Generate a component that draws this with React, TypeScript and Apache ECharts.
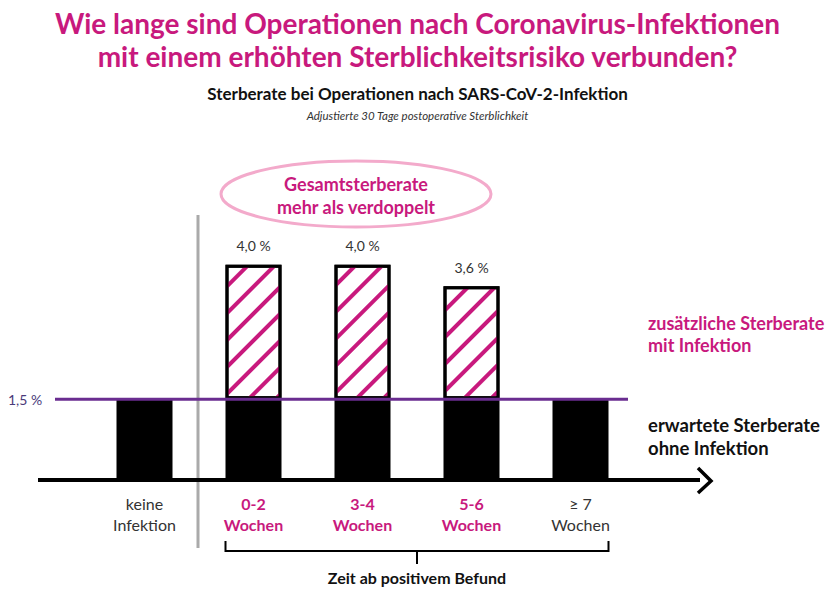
import React, { useEffect, useRef } from "react";
import * as echarts from "echarts";

const categories = ["keine\nInfektion", "0-2\nWochen", "3-4\nWochen", "5-6\nWochen", "≥ 7\nWochen"];
const highlighted = [false, true, true, true, false];
const baseRate = [1.5, 1.5, 1.5, 1.5, 1.5];
const totalRate: (number | null)[] = [null, 4.0, 4.0, 3.6, null];
const totalLabels = ["", "4,0 %", "4,0 %", "3,6 %", ""];
const referenceRate = 1.5;
const referenceLabel = "1,5 %";

const MAGENTA = "#c8197d";
const PURPLE = "#6a2d90";
const FONT = "Lato, 'Open Sans', sans-serif";

export default function App() {
  const ref = useRef<HTMLDivElement>(null);
  useEffect(() => {
    if (!ref.current) return;
    const chart = echarts.init(ref.current, null, { renderer: "svg" });
    const extra = totalRate.map((t, i) => (t == null ? "-" : +(t - baseRate[i]).toFixed(2)));
    chart.setOption({
      animation: false,
      backgroundColor: "#fff",
      textStyle: { fontFamily: FONT },
      grid: { left: 90, right: 200, top: 211, bottom: 110 },
      xAxis: {
        type: "category",
        data: categories,
        axisLine: { show: false },
        axisTick: { show: false },
        axisLabel: {
          margin: 13,
          interval: 0,
          formatter: (v: string, i: number) => {
            const [a, b] = v.split("\n");
            const s = highlighted[i] ? "m" : "n";
            return `{${s}|${a}}\n{${s}|${b}}`;
          },
          rich: {
            m: { color: MAGENTA, fontWeight: "bold", fontSize: 16, lineHeight: 21, fontFamily: FONT },
            n: { color: "#333", fontSize: 16, lineHeight: 21, fontFamily: FONT },
          },
        },
      },
      yAxis: {
        type: "value",
        min: 0,
        max: 5,
        show: false,
      },
      series: [
        {
          type: "bar",
          stack: "a",
          data: baseRate,
          barWidth: 56,
          itemStyle: { color: "#000" },
        },
        {
          type: "bar",
          stack: "a",
          data: extra,
          barWidth: 56,
          itemStyle: {
            color: "#fff",
            borderColor: "#000",
            borderWidth: 3,
            decal: {
              symbol: "rect",
              symbolSize: 1,
              color: MAGENTA,
              backgroundColor: "#fff",
              dashArrayX: [1, 0],
              dashArrayY: [4, 15],
              rotation: -Math.PI / 4,
            },
          },
          label: {
            show: true,
            position: "top",
            distance: 12,
            color: "#333",
            fontSize: 14,
            fontFamily: FONT,
            formatter: (p: any) => totalLabels[p.dataIndex],
          },
        },
      ],
    });

    const px = (i: number, v: number) => chart.convertToPixel({ xAxisIndex: 0, yAxisIndex: 0 }, [i, v]) as number[];
    const refY = px(0, referenceRate)[1];
    const baseY = px(0, 0)[1];
    const x0 = px(0, 0)[0];
    const x1 = px(1, 0)[0];
    const x4 = px(4, 0)[0];
    const sepX = (x0 + x1) / 2 - 1;
    const bLeft = x1 - 28;
    const bRight = x4 + 28;
    const bMid = (bLeft + bRight) / 2;
    const ellCx = 356;

    chart.setOption({
      graphic: [
        { type: "text", left: "center", top: 6, style: { text: "Wie lange sind Operationen nach Coronavirus-Infektionen\nmit einem erhöhten Sterblichkeitsrisiko verbunden?", fill: MAGENTA, font: `bold 28px ${FONT}`, textAlign: "center", lineHeight: 33 } },
        { type: "text", left: "center", top: 85, style: { text: "Sterberate bei Operationen nach SARS-CoV-2-Infektion", fill: "#111", font: `bold 17px ${FONT}`, textAlign: "center" } },
        { type: "text", left: "center", top: 109, style: { text: "Adjustierte 30 Tage postoperative Sterblichkeit", fill: "#333", font: `italic 11.5px ${FONT}`, textAlign: "center" } },
        { type: "ellipse", shape: { cx: ellCx, cy: 194, rx: 135, ry: 33 }, style: { fill: "none", stroke: "#f3aacb", lineWidth: 3 }, z: 10 },
        { type: "text", x: ellCx, y: 195, style: { text: "Gesamtsterberate\nmehr als verdoppelt", fill: MAGENTA, font: `bold 18px ${FONT}`, textAlign: "center", textVerticalAlign: "middle", lineHeight: 23 }, z: 11 },
        { type: "line", shape: { x1: sepX, y1: 215, x2: sepX, y2: 548 }, style: { stroke: "#aaa", lineWidth: 3 }, z: 5 },
        { type: "line", shape: { x1: 55, y1: refY, x2: 628, y2: refY }, style: { stroke: PURPLE, lineWidth: 3 }, z: 20 },
        { type: "text", x: 8, y: refY, style: { text: referenceLabel, fill: "#4a3a7a", font: `14px ${FONT}`, textVerticalAlign: "middle" }, z: 20 },
        { type: "line", shape: { x1: 38, y1: baseY, x2: 700, y2: baseY }, style: { stroke: "#000", lineWidth: 4 }, z: 20 },
        { type: "polyline", shape: { points: [[698, 468], [711, 481], [698, 493]] }, style: { stroke: "#000", lineWidth: 3.5, fill: "none" }, z: 20 },
        { type: "polyline", shape: { points: [[bLeft, 541], [bLeft, 551], [bRight, 551], [bRight, 541]] }, style: { stroke: "#000", lineWidth: 2, fill: "none" }, z: 20 },
        { type: "line", shape: { x1: bMid, y1: 551, x2: bMid, y2: 564 }, style: { stroke: "#000", lineWidth: 2 }, z: 20 },
        { type: "text", x: bMid, y: 577, style: { text: "Zeit ab positivem Befund", fill: "#111", font: `bold 16px ${FONT}`, textAlign: "center", textVerticalAlign: "middle" }, z: 20 },
        { type: "text", x: 648, y: 334, style: { text: "zusätzliche Sterberate\nmit Infektion", fill: MAGENTA, font: `bold 18px ${FONT}`, textVerticalAlign: "middle", lineHeight: 22 }, z: 20 },
        { type: "text", x: 648, y: 436, style: { text: "erwartete Sterberate\nohne Infektion", fill: "#111", font: `bold 18.5px ${FONT}`, textVerticalAlign: "middle", lineHeight: 23 }, z: 20 },
      ],
    });
    return () => chart.dispose();
  }, []);
  return <div ref={ref} style={{ width: 835, height: 590, position: "absolute", left: 0, top: 0 }} />;
}
